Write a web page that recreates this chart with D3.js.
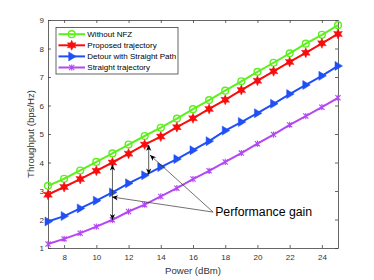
<!DOCTYPE html>
<html><head><meta charset="utf-8">
<script src="https://cdn.jsdelivr.net/npm/d3@7"></script>
<style>body{margin:0;background:#fff}svg{display:block;font-family:"Liberation Sans",Arial,sans-serif}</style>
</head><body><svg id="c" width="374" height="280"></svg>
<script>
const power = [7,8,9,10,11,12,13,14,15,16,17,18,19,20,21,22,23,24,25];
const withoutNFZ = [3.18,3.43,3.72,4.02,4.32,4.63,4.93,5.22,5.54,5.87,6.19,6.52,6.85,7.18,7.5,7.83,8.17,8.48,8.82];
const proposed   = [2.87,3.14,3.42,3.71,4.0,4.31,4.63,4.91,5.24,5.55,5.88,6.2,6.54,6.87,7.2,7.53,7.85,8.18,8.51];
const detour     = [1.93,2.12,2.39,2.66,2.95,3.27,3.55,3.84,4.12,4.43,4.75,5.12,5.42,5.73,6.06,6.4,6.72,7.04,7.39];
const straight   = [1.14,1.32,1.52,1.75,1.99,2.28,2.52,2.81,3.1,3.42,3.71,4.02,4.33,4.66,4.98,5.32,5.63,5.94,6.27];
const seriesNames = ["Without NFZ","Proposed trajectory","Detour with Straight Path","Straight trajectory"];
const xTicks = [8,10,12,14,16,18,20,22,24];
const yTicks = [1,2,3,4,5,6,7,8,9];
const xLabel = "Power (dBm)";
const yLabel = "Throughput (bps/Hz)";
const gainText = "Performance gain";
// annotation in data coordinates
const gainArrows = [{x:11, y1:3.93, y2:1.98},{x:13.25, y1:4.62, y2:3.58}];
const gainPointers = [{x:10.97, y:2.79},{x:13.33, y:4.26}];
const gainOrigin = {x:17.25, y:2.26};

const colors = ["#5cf01c","#f80d0d","#1f4ff5","#b447f5"];
const markers = ["circle","hexagram","triangle","asterisk"];
const data = [withoutNFZ, proposed, detour, straight];

const svg = d3.select("#c");
const M = {l:48, r:338, t:20, b:248};
const x = d3.scaleLinear().domain([7,25]).range([M.l, M.r]);
const y = d3.scaleLinear().domain([1,9]).range([M.b, M.t]);
const axisCol = "#404040";

// axes
const gx = svg.append("g").attr("transform",`translate(0,${M.b})`)
  .call(d3.axisBottom(x).tickValues(xTicks).tickSizeInner(-3).tickSizeOuter(0).tickPadding(6));
const gxt = svg.append("g").attr("transform",`translate(0,${M.t})`)
  .call(d3.axisTop(x).tickValues(xTicks).tickSizeInner(-3).tickSizeOuter(0).tickFormat(""));
const gy = svg.append("g").attr("transform",`translate(${M.l},0)`)
  .call(d3.axisLeft(y).tickValues(yTicks).tickSizeInner(-3).tickSizeOuter(0).tickPadding(4));
const gyr = svg.append("g").attr("transform",`translate(${M.r},0)`)
  .call(d3.axisRight(y).tickValues(yTicks).tickSizeInner(-3).tickSizeOuter(0).tickFormat(""));
[gx,gxt,gy,gyr].forEach(g=>{
  g.selectAll("path").attr("stroke",axisCol).attr("stroke-width",0.8);
  g.selectAll("line").attr("stroke",axisCol).attr("stroke-width",0.8);
  g.selectAll("text").attr("fill","#333").style("font-size","8px").style("font-family","Liberation Sans, Arial, sans-serif");
});
gx.selectAll("text").attr("dy","0.71em");

// labels
svg.append("text").attr("x",(M.l+M.r)/2).attr("y",274).attr("text-anchor","middle")
  .style("font-size","9.6px").attr("fill","#333").text(xLabel);
svg.append("text").attr("transform",`translate(31,${(M.t+M.b)/2}) rotate(-90)`).attr("text-anchor","middle")
  .attr("dy","0.35em").style("font-size","9.6px").attr("fill","#333").text(yLabel);

// marker drawing
function star(r1,r2,n){const p=[];for(let i=0;i<2*n;i++){const r=i%2?r2:r1;const a=Math.PI*i/n-Math.PI/2;p.push([r*Math.cos(a),r*Math.sin(a)]);}return "M"+p.join("L")+"Z";}
function drawMarker(g,type,col){
  if(type==="circle") g.append("circle").attr("r",3.4).attr("fill","none").attr("stroke",col).attr("stroke-width",1.4);
  else if(type==="hexagram") g.append("path").attr("d",star(5,2.6,6)).attr("fill",col).attr("stroke",col).attr("stroke-width",0.5);
  else if(type==="triangle") g.append("path").attr("d","M-3,-4.5L4.5,0L-3,4.5Z").attr("fill",col).attr("stroke",col).attr("stroke-width",0.5);
  else { const s=2.6; g.append("path").attr("d",`M${-s},${-s}L${s},${s}M${-s},${s}L${s},${-s}M0,${-s*1.2}L0,${s*1.2}`).attr("stroke",col).attr("stroke-width",1.1).attr("fill","none"); }
}

const line = d3.line().x((d,i)=>x(power[i])).y(d=>y(d));
data.forEach((vals,k)=>{
  svg.append("path").datum(vals).attr("d",line).attr("fill","none").attr("stroke",colors[k]).attr("stroke-width",2);
  vals.forEach((v,i)=>{
    const g = svg.append("g").attr("transform",`translate(${x(power[i])},${y(v)})`);
    drawMarker(g,markers[k],colors[k]);
  });
});

// annotations
function arrowHead(tx,ty,fx,fy){
  const a=Math.atan2(ty-fy,tx-fx), L=6, W=2.6, b=4.3;
  const p=(d,w)=>[tx-d*Math.cos(a)-w*Math.sin(a), ty-d*Math.sin(a)+w*Math.cos(a)];
  const p1=p(L,W), p2=p(b,0), p3=p(L,-W);
  svg.append("path").attr("d",`M${tx},${ty}L${p1}L${p2}L${p3}Z`).attr("fill","#000");
}
gainArrows.forEach(a=>{
  const X=x(a.x), Y1=y(a.y1), Y2=y(a.y2);
  svg.append("line").attr("x1",X).attr("x2",X).attr("y1",Y1).attr("y2",Y2).attr("stroke","#333").attr("stroke-width",0.8);
  arrowHead(X,Y1,X,Y2); arrowHead(X,Y2,X,Y1);
});
const ox=x(gainOrigin.x), oy=y(gainOrigin.y);
gainPointers.forEach(p=>{
  svg.append("line").attr("x1",ox).attr("y1",oy).attr("x2",x(p.x)).attr("y2",y(p.y)).attr("stroke","#333").attr("stroke-width",0.7);
  arrowHead(x(p.x),y(p.y),ox,oy);
});
svg.append("text").attr("x",ox+2).attr("y",oy).attr("dy","0.35em").style("font-size","12.3px").attr("fill","#000").text(gainText);

// legend
const lg = svg.append("g");
lg.append("rect").attr("x",56).attr("y",27.5).attr("width",122).attr("height",46.5).attr("fill","#fff").attr("stroke",axisCol).attr("stroke-width",0.8);
seriesNames.forEach((n,k)=>{
  const yy = 34.2 + k*11.1;
  lg.append("line").attr("x1",58.5).attr("x2",85).attr("y1",yy).attr("y2",yy).attr("stroke",colors[k]).attr("stroke-width",2);
  const g = lg.append("g").attr("transform",`translate(71.7,${yy})`);
  drawMarker(g,markers[k],colors[k]);
  lg.append("text").attr("x",87.3).attr("y",yy).attr("dy","0.35em").style("font-size","8px").attr("fill","#000").text(n);
});
</script></body></html>
